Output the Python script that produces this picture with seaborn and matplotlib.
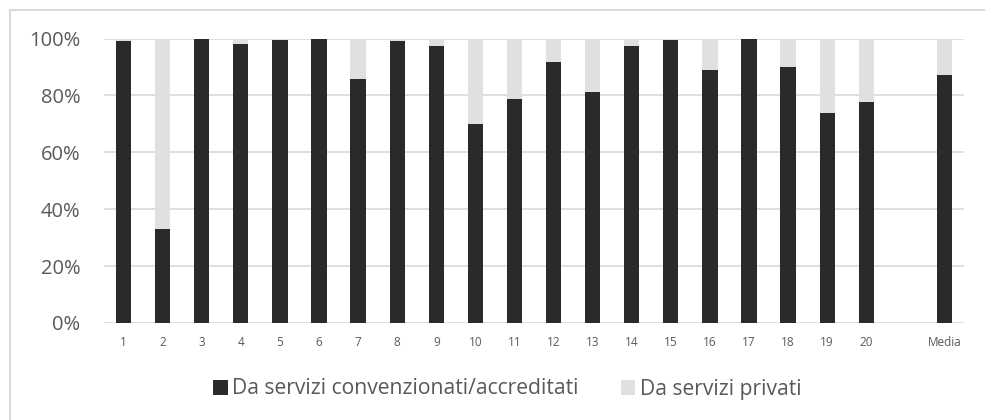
import matplotlib
matplotlib.use("Agg")
import matplotlib.pyplot as plt
from matplotlib.patches import Patch
from matplotlib.lines import Line2D
from matplotlib.ticker import FuncFormatter
import pandas as pd
import seaborn as sns

# Share of services, per unit (percent)
categories = [str(i) for i in range(1, 21)] + ["Media"]
convenzionati = [99.1, 33.1, 100.0, 98.1, 99.5, 100.0, 85.6, 99.2, 97.2, 70.0,
                 78.8, 91.8, 81.1, 97.3, 99.5, 88.9, 100.0, 89.9, 73.9, 77.8, 87.0]
privati = [0.9, 66.9, 0.0, 1.9, 0.5, 0.0, 14.4, 0.8, 2.8, 30.0,
           21.2, 8.2, 18.9, 2.7, 0.5, 11.1, 0.0, 10.1, 26.1, 22.2, 13.0]
series_names = ["Da servizi convenzionati/accreditati", "Da servizi privati"]

# Blank slot separating the units from the average
order = categories[:20] + [" "] + ["Media"]

DARK = "#2a2a2c"
LIGHT = "#e0e0e0"
GRID = "#d9d9d9"
TEXT = "#595959"

df = pd.DataFrame({
    "cat": categories,
    "conv": convenzionati,
    "total": [c + p for c, p in zip(convenzionati, privati)],
})

sns.set_theme(style="white")
plt.rcParams["font.family"] = ["Open Sans", "DejaVu Sans"]

fig = plt.figure(figsize=(9.85, 4.2), dpi=100)
ax = fig.add_axes([104 / 985, 1 - 323 / 420, (964 - 104) / 985, (323 - 38.5) / 420])

sns.barplot(data=df, x="cat", y="total", order=order, color=LIGHT,
            width=0.39, saturation=1, ax=ax, linewidth=0, zorder=2)
sns.barplot(data=df, x="cat", y="conv", order=order, color=DARK,
            width=0.39, saturation=1, ax=ax, linewidth=0, zorder=3)

ax.set_ylim(0, 100)
ax.set_xlim(-0.5, len(order) - 0.5)
ax.set_yticks(range(0, 101, 20))
ax.yaxis.set_major_formatter(FuncFormatter(lambda v, _: f"{int(v)}%"))
ax.grid(axis="y", color=GRID, linewidth=1.2, zorder=0)
ax.set_axisbelow(True)
for s in ax.spines.values():
    s.set_visible(False)
ax.set_xlabel("")
ax.set_ylabel("")
ax.tick_params(axis="y", labelsize=14.5, colors=TEXT, length=0, pad=17)
ax.tick_params(axis="x", labelsize=8.5, colors=TEXT, length=0, pad=9)

handles = [Patch(facecolor=DARK, edgecolor="none"),
           Patch(facecolor=LIGHT, edgecolor="none")]
fig.legend(handles, series_names, loc="center", bbox_to_anchor=(507 / 985, 1 - 389 / 420),
           ncol=2, frameon=False, fontsize=15.2, labelcolor=TEXT,
           handlelength=0.7, handleheight=0.7, handletextpad=0.2, columnspacing=2.0)

# Chart-area border (top and left edges)
y_top = 1 - 9.5 / 420
x_left = 10 / 985
fig.add_artist(Line2D([x_left, 1.0], [y_top, y_top], color=GRID, linewidth=1.5,
                      transform=fig.transFigure))
fig.add_artist(Line2D([x_left, x_left], [0.0, y_top], color=GRID, linewidth=1.5,
                      transform=fig.transFigure))

fig.savefig("out.png", dpi=100)
